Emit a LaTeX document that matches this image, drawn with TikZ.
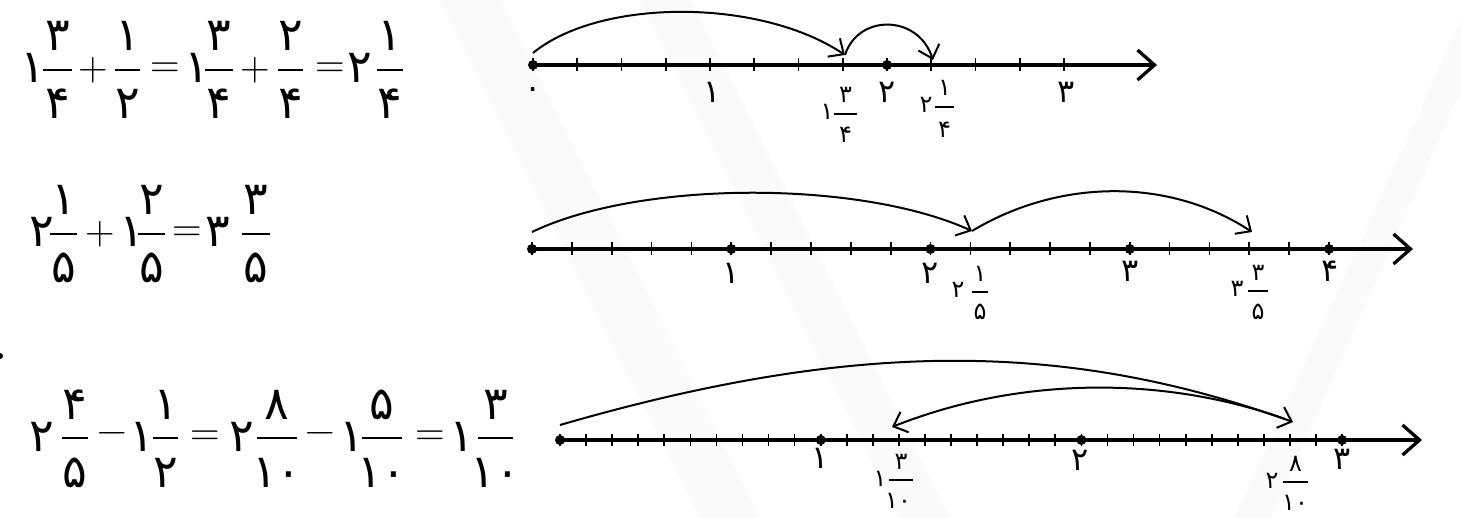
\documentclass[tikz,border=0pt]{standalone}
\usepackage{fontspec}
\usetikzlibrary{arrows.meta}
\newfontfamily\fa{DejaVu Sans}
\newcommand\eqfr[6]{%
  \draw[bar] (#2,#4) coordinate (#1l) -- (#3,#4) coordinate (#1r);
  \node[eqd] (#1n) at ({(#2+#3)/2},{#4-19}) {#5};
  \node[eqd] (#1d) at ({(#2+#3)/2},{#4+49}) {#6};}
\newcommand\labfr[7]{% name, whole x, bar left, bar right, bar y, num, whole digit
  \draw[sbar] (#3,#5) -- (#4,#5);
  \node[slab] (#1w) at (#2,{#5+6}) {#7};
  \node[slab] (#1n) at ({(#3+#4)/2},{#5-11}) {#6};}
\begin{document}
\begin{tikzpicture}[x=0.5pt,y=-0.5pt,
  axis/.style={line width=1.65pt,-{Straight Barb[length=8.5pt,width=15pt]}},
  tickmark/.style={line width=0.85pt},
  jump/.style={line width=1pt,-{Straight Barb[length=6pt,width=11pt]}},
  dot/.style={circle,fill=black,inner sep=0pt,minimum size=5pt},
  eqd/.style={inner sep=0pt,anchor=base,font=\fa\fontsize{23}{26}\selectfont},
  eqop/.style={inner sep=0pt,font=\fontsize{20.5}{24}\selectfont},
  lab/.style={inner sep=0pt,anchor=base,font=\fa\fontsize{16}{19}\selectfont},
  slab/.style={inner sep=0pt,anchor=base,font=\fa\fontsize{12}{14}\selectfont},
  bar/.style={line width=1pt},
  sbar/.style={line width=0.7pt},
  streak/.style={fill=black!2}]
\useasboundingbox (0,0) rectangle (1461,518);
\fill[white] (0,0) rectangle (1461,518);
% faint background streaks
\fill[streak] (440,0) -- (500,0) -- (760,518) -- (700,518) -- cycle;
\fill[streak] (640,0) -- (690,0) -- (950,518) -- (900,518) -- cycle;
\fill[streak] (1235,518) -- (1270,518) -- (1461,90) -- (1461,20) -- cycle;
\fill[black] (0,356) circle (3);

% ---------------- equation 1 ----------------
\node[eqd] (e1w1) at (33,83) {۱};
\eqfr{e1a}{43}{72}{70}{۳}{۴}
\node[eqop] (e1p1) at (93,70) {+};
\eqfr{e1b}{115}{140}{70}{۱}{۲}
\node[eqop] (e1q1) at (165,70) {=};
\node[eqd] (e1w2) at (197,83) {۱};
\eqfr{e1c}{205}{233}{70}{۳}{۴}
\node[eqop] (e1p2) at (255,70) {+};
\eqfr{e1d}{278}{303}{70}{۲}{۴}
\node[eqop] (e1q2) at (330,70) {=};
\node[eqd] (e1w3) at (360,83) {۲};
\eqfr{e1e}{377}{403}{70}{۱}{۴}

% ---------------- equation 2 ----------------
\node[eqd] (e2w1) at (42,247) {۲};
\eqfr{e2a}{50}{77}{234}{۱}{۵}
\node[eqop] (e2p1) at (100,234) {+};
\node[eqd] (e2w2) at (132,247) {۱};
\eqfr{e2b}{138}{165}{234}{۲}{۵}
\node[eqop] (e2q1) at (187,234) {=};
\node[eqd] (e2w3) at (218,247) {۳};
\eqfr{e2c}{242}{270}{234}{۳}{۵}

% ---------------- equation 3 ----------------
\node[eqd] (e3w1) at (42,451) {۲};
\eqfr{e3a}{62}{88}{438}{۴}{۵}
\node[eqop] (e3m1) at (112,438) {−};
\node[eqd] (e3w2) at (142,451) {۱};
\eqfr{e3b}{153}{178}{438}{۱}{۲}
\node[eqop] (e3q1) at (205,438) {=};
\node[eqd] (e3w3) at (242,451) {۲};
\eqfr{e3c}{257}{297}{438}{۸}{۱۰}
\node[eqop] (e3m2) at (320,438) {−};
\node[eqd] (e3w4) at (352,451) {۱};
\eqfr{e3d}{362}{402}{438}{۵}{۱۰}
\node[eqop] (e3q2) at (430,438) {=};
\node[eqd] (e3w5) at (462,451) {۱};
\eqfr{e3e}{478}{513}{438}{۳}{۱۰}

% ---------------- number line 1 ----------------
\coordinate (n1s) at (533,65);
\coordinate (n1e) at (1157,65);
\draw[axis] (n1s) -- (n1e);
\foreach \i in {0,...,12} \draw[tickmark] ({533+\i*44.25},58.5) -- ++(0,13);
\node[dot] (n1d0) at (533,65) {};
\node[dot] (n1d2) at (887,65) {};
\node[lab] (n1l0) at (533,99) {۰};
\node[lab] (n1l1) at (712,103) {۱};
\node[lab] (n1l2) at (887,103) {۲};
\node[lab] (n1l3) at (1066,103) {۳};
\labfr{n1fa}{827}{834}{857}{114}{۳}{۱}
\node[slab] (n1fad) at (845.5,143) {۴};
\labfr{n1fb}{926}{935}{954}{107}{۱}{۲}
\node[slab] (n1fbd) at (944.5,138) {۴};
\coordinate (j1a) at (533,53);
\coordinate (j1b) at (845,55);
\coordinate (j1c) at (933,60);
\draw[jump] (j1a) .. controls (600,-2) and (760,-2) .. (j1b);
\draw[jump] (j1b) .. controls (858,14) and (918,14) .. (j1c);

% ---------------- number line 2 ----------------
\coordinate (n2s) at (532,249);
\coordinate (n2e) at (1413,249);
\draw[axis] (n2s) -- (n2e);
\foreach \i in {0,...,20} \draw[tickmark] ({532+\i*39.85},242.5) -- ++(0,13);
\foreach \i in {0,...,4} \node[dot] (n2d\i) at ({532+\i*199.25},249) {};
\node[lab] (n2l1) at (731,284) {۱};
\node[lab] (n2l2) at (930,284) {۲};
\node[lab] (n2l3) at (1130,282) {۳};
\node[lab] (n2l4) at (1330,282) {۴};
\labfr{n2fa}{958}{972}{988}{292}{۱}{۲}
\node[slab] (n2fad) at (980,320) {۵};
\labfr{n2fb}{1237}{1248}{1268}{291}{۳}{۳}
\node[slab] (n2fbd) at (1258,320) {۵};
\coordinate (j2a) at (532,232);
\coordinate (j2b) at (972,231);
\coordinate (j2c) at (1252,232);
\draw[jump] (j2a) .. controls (640,180) and (860,180) .. (j2b);
\draw[jump] (j2b) .. controls (1060,178) and (1170,178) .. (j2c);

% ---------------- number line 3 ----------------
\coordinate (n3s) at (560,440);
\coordinate (n3e) at (1422,440);
\draw[axis] (n3s) -- (n3e);
\foreach \i in {0,...,30} \draw[tickmark] ({560+\i*26.07},434) -- ++(0,12);
\foreach \i in {0,...,3} \node[dot] (n3d\i) at ({560+\i*260.7},440) {};
\node[lab] (n3l1) at (820,468) {۱};
\node[lab] (n3l2) at (1080,470) {۲};
\node[lab] (n3l3) at (1342,469) {۳};
\labfr{n3fa}{880}{889}{913}{480}{۳}{۱}
\node[slab] (n3fad) at (898,508) {۱۰};
\labfr{n3fb}{1272}{1283}{1308}{482}{۸}{۲}
\node[slab] (n3fbd) at (1295,510) {۱۰};
\coordinate (j3a) at (560,425);
\coordinate (j3b) at (1293,422);
\coordinate (j3c) at (1285,419);
\coordinate (j3d) at (892,427);
\draw[jump] (j3a) .. controls (853,340) and (1065,340) .. (j3b);
\draw[jump] (j3c) .. controls (1165,376) and (1020,376) .. (j3d);
\end{tikzpicture}
\end{document}
